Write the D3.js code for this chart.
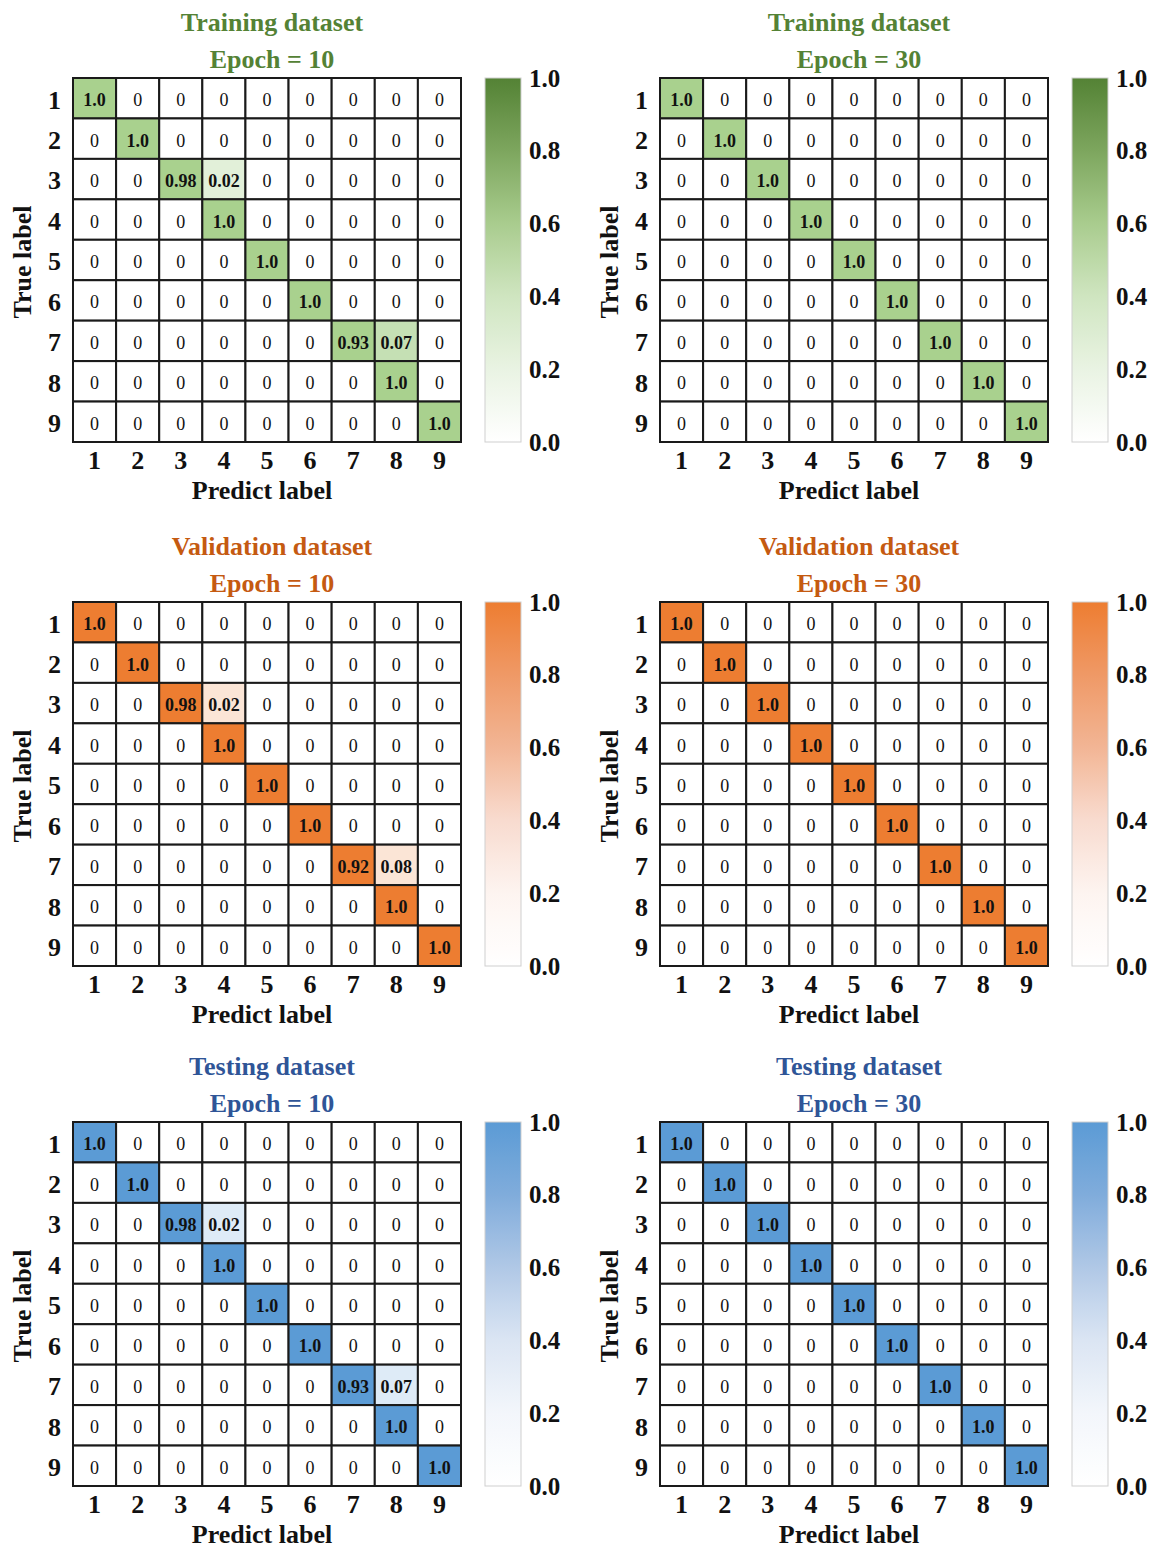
<!DOCTYPE html>
<html>
<head>
<meta charset="utf-8">
<script src="https://cdn.jsdelivr.net/npm/d3@7"></script>
<style>
  html, body { margin: 0; padding: 0; background: #fff; }
  svg { display: block; }
  text { font-family: "Liberation Serif", "Times New Roman", serif; }
</style>
</head>
<body>
<svg id="chart" width="1158" height="1548"></svg>
<script>
// Class labels shared by every matrix
const classes = ["1", "2", "3", "4", "5", "6", "7", "8", "9"];
const colorbarTicks = [0, 0.2, 0.4, 0.6, 0.8, 1.0];

// Normalised confusion matrices (rows = true label, columns = predicted label)
const trainEpoch10 = [
  [1, 0, 0, 0, 0, 0, 0, 0, 0],
  [0, 1, 0, 0, 0, 0, 0, 0, 0],
  [0, 0, 0.98, 0.02, 0, 0, 0, 0, 0],
  [0, 0, 0, 1, 0, 0, 0, 0, 0],
  [0, 0, 0, 0, 1, 0, 0, 0, 0],
  [0, 0, 0, 0, 0, 1, 0, 0, 0],
  [0, 0, 0, 0, 0, 0, 0.93, 0.07, 0],
  [0, 0, 0, 0, 0, 0, 0, 1, 0],
  [0, 0, 0, 0, 0, 0, 0, 0, 1]
];
const trainEpoch30 = [
  [1, 0, 0, 0, 0, 0, 0, 0, 0],
  [0, 1, 0, 0, 0, 0, 0, 0, 0],
  [0, 0, 1, 0, 0, 0, 0, 0, 0],
  [0, 0, 0, 1, 0, 0, 0, 0, 0],
  [0, 0, 0, 0, 1, 0, 0, 0, 0],
  [0, 0, 0, 0, 0, 1, 0, 0, 0],
  [0, 0, 0, 0, 0, 0, 1, 0, 0],
  [0, 0, 0, 0, 0, 0, 0, 1, 0],
  [0, 0, 0, 0, 0, 0, 0, 0, 1]
];
const validEpoch10 = [
  [1, 0, 0, 0, 0, 0, 0, 0, 0],
  [0, 1, 0, 0, 0, 0, 0, 0, 0],
  [0, 0, 0.98, 0.02, 0, 0, 0, 0, 0],
  [0, 0, 0, 1, 0, 0, 0, 0, 0],
  [0, 0, 0, 0, 1, 0, 0, 0, 0],
  [0, 0, 0, 0, 0, 1, 0, 0, 0],
  [0, 0, 0, 0, 0, 0, 0.92, 0.08, 0],
  [0, 0, 0, 0, 0, 0, 0, 1, 0],
  [0, 0, 0, 0, 0, 0, 0, 0, 1]
];
const validEpoch30 = [
  [1, 0, 0, 0, 0, 0, 0, 0, 0],
  [0, 1, 0, 0, 0, 0, 0, 0, 0],
  [0, 0, 1, 0, 0, 0, 0, 0, 0],
  [0, 0, 0, 1, 0, 0, 0, 0, 0],
  [0, 0, 0, 0, 1, 0, 0, 0, 0],
  [0, 0, 0, 0, 0, 1, 0, 0, 0],
  [0, 0, 0, 0, 0, 0, 1, 0, 0],
  [0, 0, 0, 0, 0, 0, 0, 1, 0],
  [0, 0, 0, 0, 0, 0, 0, 0, 1]
];
const testEpoch10 = [
  [1, 0, 0, 0, 0, 0, 0, 0, 0],
  [0, 1, 0, 0, 0, 0, 0, 0, 0],
  [0, 0, 0.98, 0.02, 0, 0, 0, 0, 0],
  [0, 0, 0, 1, 0, 0, 0, 0, 0],
  [0, 0, 0, 0, 1, 0, 0, 0, 0],
  [0, 0, 0, 0, 0, 1, 0, 0, 0],
  [0, 0, 0, 0, 0, 0, 0.93, 0.07, 0],
  [0, 0, 0, 0, 0, 0, 0, 1, 0],
  [0, 0, 0, 0, 0, 0, 0, 0, 1]
];
const testEpoch30 = [
  [1, 0, 0, 0, 0, 0, 0, 0, 0],
  [0, 1, 0, 0, 0, 0, 0, 0, 0],
  [0, 0, 1, 0, 0, 0, 0, 0, 0],
  [0, 0, 0, 1, 0, 0, 0, 0, 0],
  [0, 0, 0, 0, 1, 0, 0, 0, 0],
  [0, 0, 0, 0, 0, 1, 0, 0, 0],
  [0, 0, 0, 0, 0, 0, 1, 0, 0],
  [0, 0, 0, 0, 0, 0, 0, 1, 0],
  [0, 0, 0, 0, 0, 0, 0, 0, 1]
];

const datasetNames = ["Training dataset", "Validation dataset", "Testing dataset"];
const epochs = [10, 30];
const matrices = [
  [trainEpoch10, trainEpoch30],
  [validEpoch10, validEpoch30],
  [testEpoch10, testEpoch30]
];

// Per-dataset palette: title colour, cell shading and colour-bar ramp
const themes = [
  {
    title: "#548235",
    cellStops: [0.01, 0.05, 0.5],
    cellColors: ["#ffffff", "#e2f0d9", "#c5e0b4", "#a9d18e"],
    ramp: ["#ffffff", "#e9f3e3", "#cfe5c0", "#a9cc8e", "#7da65e", "#548235"]
  },
  {
    title: "#c55a11",
    cellStops: [0.01, 0.5],
    cellColors: ["#ffffff", "#fbe5d6", "#ed7d31"],
    ramp: ["#ffffff", "#fdf4f0", "#f8dbcf", "#f2b595", "#ef9966", "#ed7d31"]
  },
  {
    title: "#2f5597",
    cellStops: [0.01, 0.5],
    cellColors: ["#ffffff", "#deebf7", "#5b9bd5"],
    ramp: ["#ffffff", "#f3f6fb", "#dbe5f3", "#b0c8e6", "#80acdb", "#5b9bd5"]
  }
];

const svg = d3.select("#chart");
const defs = svg.append("defs");

const colX = [73, 660];
const rowY = [78, 602, 1122];
const matW = 388, matH = 364;
const cbarGap = 24, cbarW = 36;
const serif = "Liberation Serif, Times New Roman, serif";

const fmt = v => v === 0 ? "0" : (v === 1 ? "1.0" : d3.format(".2f")(v));

matrices.forEach((pair, r) => {
  const theme = themes[r];
  const cellColor = d3.scaleThreshold().domain(theme.cellStops).range(theme.cellColors);
  const rampColor = d3.scaleLinear().domain(colorbarTicks).range(theme.ramp).interpolate(d3.interpolateRgb);

  // vertical gradient for the colour bar of this dataset
  const gradId = "grad" + r;
  const grad = defs.append("linearGradient").attr("id", gradId)
    .attr("x1", 0).attr("y1", 1).attr("x2", 0).attr("y2", 0);
  d3.range(0, 1.0001, 0.05).forEach(t => {
    grad.append("stop").attr("offset", t).attr("stop-color", rampColor(t));
  });

  pair.forEach((mat, c) => {
    const x0 = colX[c], y0 = rowY[r];
    const g = svg.append("g").attr("transform", `translate(${x0},${y0})`);

    const x = d3.scaleBand().domain(classes).range([0, matW]);
    const y = d3.scaleBand().domain(classes).range([0, matH]);

    // titles
    const cx = matW / 2;
    g.append("text").attr("x", cx + 5).attr("y", -56)
      .attr("text-anchor", "middle").attr("dominant-baseline", "central")
      .attr("font-size", 26).attr("font-weight", "bold").attr("fill", theme.title)
      .text(datasetNames[r]);
    g.append("text").attr("x", cx + 5).attr("y", -19)
      .attr("text-anchor", "middle").attr("dominant-baseline", "central")
      .attr("font-size", 26).attr("font-weight", "bold").attr("fill", theme.title)
      .text("Epoch = " + epochs[c]);

    // cells
    const cells = [];
    mat.forEach((row, i) => row.forEach((v, j) => cells.push({ i, j, v })));

    g.selectAll("rect.cell").data(cells).join("rect")
      .attr("class", "cell")
      .attr("x", d => x(classes[d.j]))
      .attr("y", d => y(classes[d.i]))
      .attr("width", x.bandwidth())
      .attr("height", y.bandwidth())
      .attr("fill", d => cellColor(d.v))
      .attr("stroke", "#1a1a1a")
      .attr("stroke-width", 2);

    g.selectAll("text.val").data(cells).join("text")
      .attr("class", "val")
      .attr("x", d => x(classes[d.j]) + x.bandwidth() / 2)
      .attr("y", d => y(classes[d.i]) + y.bandwidth() / 2 + 2)
      .attr("text-anchor", "middle").attr("dominant-baseline", "central")
      .attr("font-size", 18)
      .attr("font-weight", d => d.v > 0 ? "bold" : "normal")
      .attr("fill", "#111")
      .text(d => fmt(d.v));

    g.append("rect").attr("x", 0).attr("y", 0).attr("width", matW).attr("height", matH)
      .attr("fill", "none").attr("stroke", "#1a1a1a").attr("stroke-width", 2);

    // row (true) labels
    const yAxis = g.append("g").attr("transform", "translate(0,2)")
      .call(d3.axisLeft(y).tickSize(0).tickPadding(12));
    yAxis.select(".domain").remove();
    yAxis.selectAll("text").attr("font-size", 26).attr("font-weight", "bold")
      .attr("fill", "#111").attr("font-family", serif);

    // column (predicted) labels
    const xAxis = g.append("g").attr("transform", `translate(0,${matH})`)
      .call(d3.axisBottom(x).tickSize(0).tickPadding(9));
    xAxis.select(".domain").remove();
    xAxis.selectAll("text").attr("font-size", 26).attr("font-weight", "bold")
      .attr("fill", "#111").attr("font-family", serif);

    g.append("text").attr("x", cx - 5).attr("y", matH + 48)
      .attr("text-anchor", "middle").attr("dominant-baseline", "central")
      .attr("font-size", 26).attr("font-weight", "bold").attr("fill", "#111")
      .text("Predict label");

    g.append("text")
      .attr("transform", `translate(-51,${matH / 2 + 2}) rotate(-90)`)
      .attr("text-anchor", "middle").attr("dominant-baseline", "central")
      .attr("font-size", 26).attr("font-weight", "bold").attr("fill", "#111")
      .text("True label");

    // colour bar
    const cb = g.append("g").attr("transform", `translate(${matW + cbarGap},0)`);
    cb.append("rect").attr("width", cbarW).attr("height", matH)
      .attr("fill", `url(#${gradId})`).attr("stroke", "#cfcfcf").attr("stroke-width", 1);
    const cbScale = d3.scaleLinear().domain([0, 1]).range([matH, 0]);
    const cbAxis = cb.append("g").attr("transform", `translate(${cbarW},0)`)
      .call(d3.axisRight(cbScale).tickValues(colorbarTicks).tickFormat(d3.format(".1f")).tickSize(0).tickPadding(8));
    cbAxis.select(".domain").remove();
    cbAxis.selectAll("text").attr("font-size", 25).attr("font-weight", "bold")
      .attr("fill", "#111").attr("font-family", serif);
  });
});
</script>
</body>
</html>
